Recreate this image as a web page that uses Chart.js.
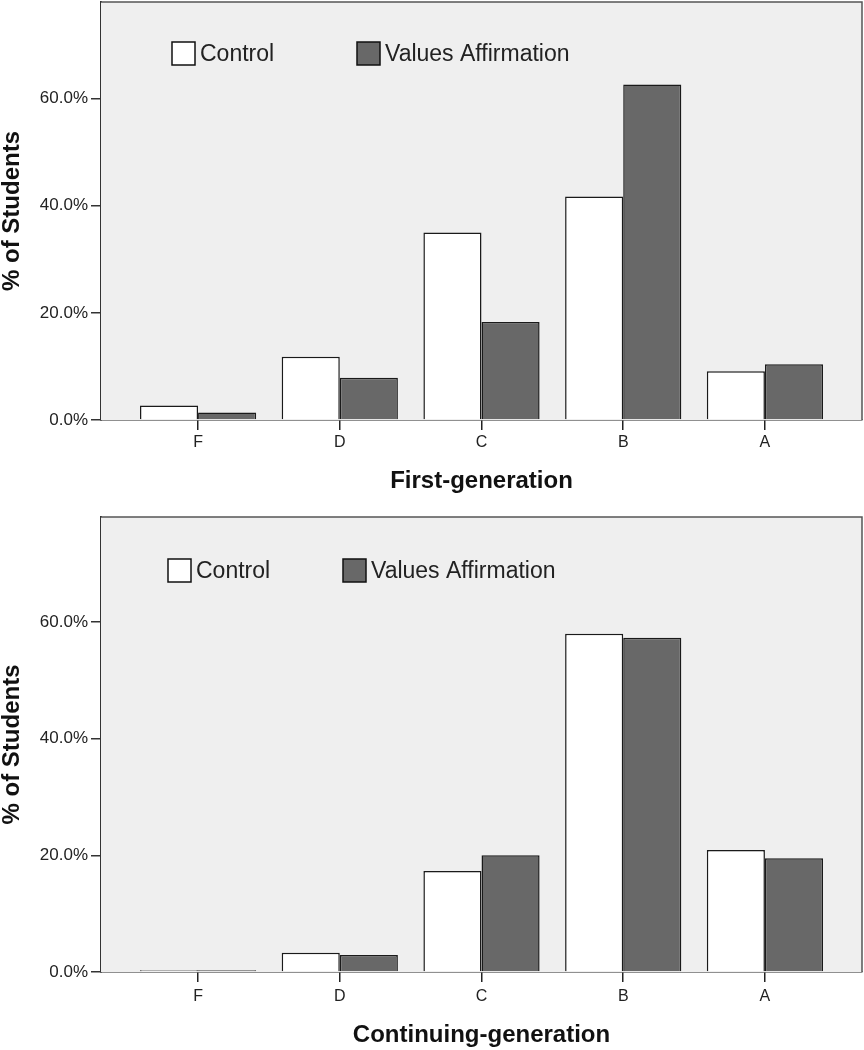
<!DOCTYPE html>
<html>
<head>
<meta charset="utf-8">
<script src="https://cdn.jsdelivr.net/npm/chart.js@4.4.1/dist/chart.umd.min.js"></script>
<style>
  body { margin: 0; background: #fff; }
  #wrap { position: relative; width: 864px; height: 1050px; }
  canvas { position: absolute; left: 0; }
</style>
</head>
<body>
<div id="wrap">
  <canvas id="firstGen" width="864" height="500" style="top:0"></canvas>
  <canvas id="contGen" width="864" height="534" style="top:516px"></canvas>
</div>
<script>
// Grades and values (% of students)
const grades = ['F', 'D', 'C', 'B', 'A'];
const seriesNames = ['Control', 'Values Affirmation'];
const firstControl = [2.7, 11.8, 35.0, 41.7, 9.1];
const firstAffirm = [1.4, 7.9, 18.3, 62.6, 10.4];
const contControl = [0.3, 3.3, 17.3, 58.0, 20.9];
const contAffirm = [0.3, 2.9, 20.0, 57.3, 19.5];
const yTicks = [0, 20, 40, 60];

const FONT = '"Liberation Sans", Arial, sans-serif';

// grey plot panel behind the bars
const panelPlugin = {
  id: 'panel',
  beforeDatasetsDraw(chart) {
    const a = chart.chartArea;
    const ctx = chart.ctx;
    ctx.save();
    ctx.fillStyle = '#efefef';
    ctx.fillRect(a.left, a.top, a.right - a.left, a.bottom - a.top);
    ctx.restore();
  },
  afterDraw(chart) {
    const a = chart.chartArea;
    const ctx = chart.ctx;
    ctx.save();
    ctx.strokeStyle = '#555';
    ctx.lineWidth = 1.5;
    ctx.beginPath();
    ctx.moveTo(a.left, a.top);
    ctx.lineTo(a.right, a.top);
    ctx.lineTo(a.right, a.bottom);
    ctx.stroke();
    ctx.restore();
  }
};

// legend boxes drawn inside the panel
const boxLegend = {
  id: 'boxLegend',
  afterDatasetsDraw(chart, args, opts) {
    const ctx = chart.ctx;
    ctx.save();
    chart.data.datasets.forEach((ds, i) => {
      const x = opts.xs[i];
      const y = opts.y;
      ctx.fillStyle = ds.backgroundColor;
      ctx.fillRect(x, y, 23, 23);
      ctx.strokeStyle = '#111';
      ctx.lineWidth = 1.5;
      ctx.strokeRect(x, y, 23, 23);
      ctx.fillStyle = '#222';
      ctx.font = '23px ' + FONT;
      ctx.textBaseline = 'middle';
      ctx.fillText(ds.label, x + 28, y + 13);
    });
    ctx.restore();
  }
};

function makeChart(id, control, affirm, title, cfg) {
  const toPoints = arr => arr.map((v, i) => ({ x: i, y: v }));
  return new Chart(document.getElementById(id), {
    type: 'bar',
    data: {
      datasets: [
        { label: seriesNames[0], data: toPoints(control), backgroundColor: '#ffffff' },
        { label: seriesNames[1], data: toPoints(affirm), backgroundColor: '#686868' }
      ]
    },
    options: {
      responsive: false,
      animation: false,
      devicePixelRatio: 1,
      layout: { padding: { top: cfg.top, right: 2, left: 0, bottom: 0 } },
      datasets: {
        bar: {
          borderColor: '#1a1a1a',
          borderWidth: 1.5,
          categoryPercentage: 0.82,
          barPercentage: 1
        }
      },
      plugins: {
        legend: { display: false },
        tooltip: { enabled: false },
        boxLegend: { xs: cfg.legendXs, y: cfg.legendY }
      },
      scales: {
        x: {
          type: 'linear',
          min: -0.685,
          max: 4.685,
          offset: false,
          z: 1,
          afterFit: s => { s.height = cfg.xHeight; s.paddingLeft = 0; s.paddingRight = 0; },
          afterBuildTicks: s => { s.ticks = grades.map((g, i) => ({ value: i })); },
          grid: { display: true, offset: false, drawOnChartArea: false, drawTicks: true, tickLength: 10, color: '#222', lineWidth: 1.5 },
          border: { display: true, color: '#222', width: 1.5 },
          ticks: {
            padding: cfg.tickPad,
            color: '#222',
            font: { family: FONT, size: 16 },
            callback: v => grades[v]
          },
          title: {
            display: true,
            text: title,
            color: '#111',
            font: { family: FONT, size: 24, weight: 'bold', lineHeight: 1 },
            padding: { top: 0, bottom: cfg.titlePad }
          }
        },
        y: {
          min: 0,
          max: 78,
          afterFit: s => { s.width = 101; s.paddingTop = 0; s.paddingBottom = 0; },
          afterBuildTicks: s => { s.ticks = yTicks.map(v => ({ value: v })); },
          grid: { drawOnChartArea: false, drawTicks: true, tickLength: 10, color: '#333', lineWidth: 1.5 },
          border: { display: true, color: '#333', width: 2 },
          ticks: {
            padding: 3,
            color: '#222',
            font: { family: FONT, size: 17 },
            callback: v => v.toFixed(1) + '%'
          },
          title: {
            display: true,
            text: '% of Students',
            color: '#111',
            font: { family: FONT, size: 24, weight: 'bold', lineHeight: 1 },
            padding: { top: 0, bottom: 0 }
          }
        }
      }
    },
    plugins: [panelPlugin, boxLegend]
  });
}

makeChart('firstGen', firstControl, firstAffirm, 'First-generation',
  { top: 2, xHeight: 80, tickPad: 3, titlePad: 7, legendXs: [172, 357], legendY: 42 });
makeChart('contGen', contControl, contAffirm, 'Continuing-generation',
  { top: 1, xHeight: 78, tickPad: 5, titlePad: 3, legendXs: [168, 343], legendY: 43 });
</script>
</body>
</html>
